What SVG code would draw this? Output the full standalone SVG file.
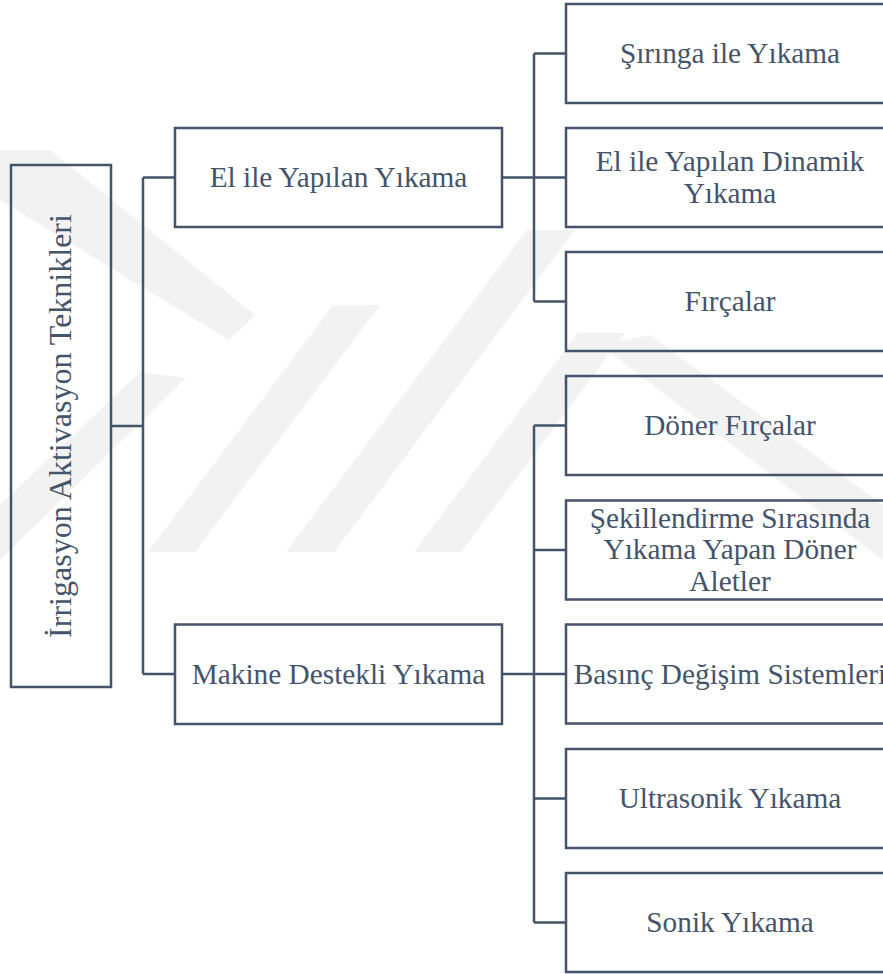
<svg xmlns="http://www.w3.org/2000/svg" width="883" height="974" viewBox="0 0 883 974">
<style>
.box{fill:none;stroke:#44546A;stroke-width:2.5}
.ln{fill:none;stroke:#44546A;stroke-width:2.5}
.t{font-family:"Liberation Serif","Times New Roman",serif;font-size:29.3px;fill:#44546A;text-anchor:middle}
.wm{fill:#f2f2f2}
</style>
<rect width="883" height="974" fill="#ffffff"/>
<g id="watermark">
<polygon class="wm" points="0,150 50,150 255,315 229,340 0,200"/>
<polygon class="wm" points="140,372 186,378 0,560 0,505"/>
<polygon class="wm" points="148,552 195,552 380,305 333,305"/>
<polygon class="wm" points="286,552 334,552 575,230 527,230"/>
<polygon class="wm" points="414,552 461,552 625,333 578,333"/>
<polygon class="wm" points="600,345 650,335 883,505 883,560"/>
</g>
<g id="connectors">
<path class="ln" d="M111,426 H143 M143,177.5 V674 M143,177.5 H175 M143,674 H175"/>
<path class="ln" d="M502,177.5 H566 M534,53.5 V301.5 M534,53.5 H566 M534,301.5 H566"/>
<path class="ln" d="M502,674 H566 M534,425.5 V922.5 M534,425.5 H566 M534,550 H566 M534,798.5 H566 M534,922.5 H566"/>
</g>
<g id="root">
<rect class="box" x="11" y="165" width="100" height="522"/>
<text class="t" style="font-size:32px" transform="translate(71,426) rotate(-90)">İrrigasyon Aktivasyon Teknikleri</text>
</g>
<g id="el-ile">
<rect class="box" x="175" y="128" width="327" height="99"/>
<text class="t" x="338.5" y="187">El ile Yapılan Yıkama</text>
</g>
<g id="makine">
<rect class="box" x="175" y="624.5" width="327" height="99.5"/>
<text class="t" x="338.5" y="684">Makine Destekli Yıkama</text>
</g>
<g id="siringa">
<rect class="box" x="566" y="4" width="328" height="99"/>
<text class="t" x="730" y="63">Şırınga ile Yıkama</text>
</g>
<g id="dinamik">
<rect class="box" x="566" y="128" width="328" height="99"/>
<text class="t" x="730" y="171">El ile Yapılan Dinamik</text>
<text class="t" x="730" y="202.5">Yıkama</text>
</g>
<g id="fircalar">
<rect class="box" x="566" y="252" width="328" height="99"/>
<text class="t" x="730" y="311">Fırçalar</text>
</g>
<g id="doner-fircalar">
<rect class="box" x="566" y="376" width="328" height="99"/>
<text class="t" x="730" y="435">Döner Fırçalar</text>
</g>
<g id="sekillendirme">
<rect class="box" x="566" y="500.5" width="328" height="99"/>
<text class="t" x="730" y="527.5">Şekillendirme Sırasında</text>
<text class="t" x="730" y="559">Yıkama Yapan Döner</text>
<text class="t" x="730" y="590.5">Aletler</text>
</g>
<g id="basinc">
<rect class="box" x="566" y="624.5" width="328" height="99"/>
<text class="t" x="730" y="684">Basınç Değişim Sistemleri</text>
</g>
<g id="ultrasonik">
<rect class="box" x="566" y="749" width="328" height="99"/>
<text class="t" x="730" y="808">Ultrasonik Yıkama</text>
</g>
<g id="sonik">
<rect class="box" x="566" y="873" width="328" height="99"/>
<text class="t" x="730" y="932">Sonik Yıkama</text>
</g>
</svg>
